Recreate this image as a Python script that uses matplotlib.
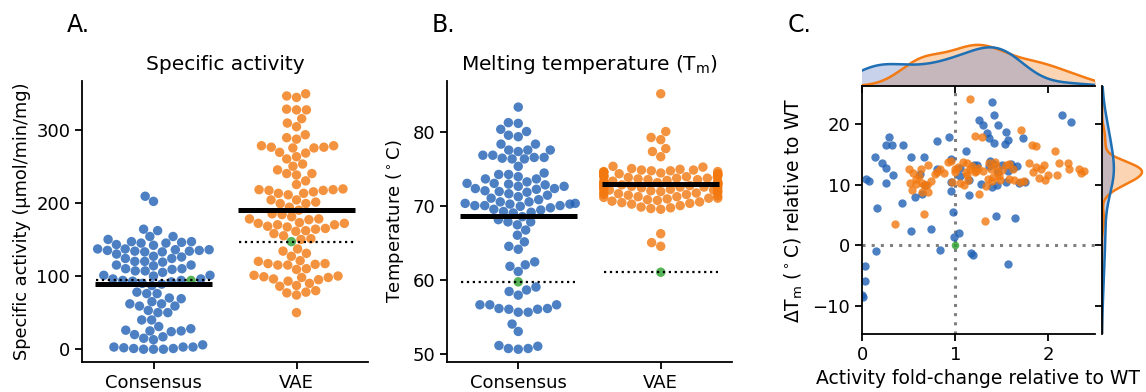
import numpy as np
import pandas as pd
import matplotlib

matplotlib.use("Agg")
import matplotlib.pyplot as plt
import seaborn as sns

# ---- panel A: specific activity (umol/min/mg) ----
act_consensus = [
    209, 202, 162, 164, 154, 154, 150, 147, 145, 143, 142, 145, 146, 147,
    137, 136, 134, 135, 135, 134, 133, 130, 133, 136, 137, 124, 124, 126, 127,
    119, 120, 120, 115, 114, 115, 110, 110, 109, 107, 105, 107, 101, 100, 101,
    96, 92, 94, 93, 94, 96, 90, 89, 87, 76, 76, 78, 69, 70, 65, 62, 62, 59, 59,
    53, 50, 50, 40, 40, 31, 28, 26, 25, 24, 25, 20, 17, 15, 13,
    3, 3, 1, 0, 0, 0, 1, 2, 3, 6,
]
act_vae = [
    346, 344, 349, 327, 327, 328, 315, 309, 304, 293, 289, 287,
    278, 276, 275, 275, 276, 278, 269, 268, 263, 260, 253, 250, 245,
    240, 240, 238, 230, 225, 218, 217, 215, 213, 211, 213, 217, 218, 219,
    204, 204, 199, 201, 199, 194, 190, 185, 181, 184, 178, 178, 177,
    173, 172, 170, 172, 170, 168, 167, 165, 162, 161, 164, 158, 155, 151, 150,
    137, 134, 131, 127, 121, 120, 117, 116, 115, 115, 117, 110, 109,
    100, 98, 98, 99, 101, 96, 95, 93, 87, 86, 90, 80, 78, 77, 74, 50,
]
act_ref = [94, 147]  # reference enzyme for each group

# ---- panel B: melting temperature (C) ----
tm_consensus = [
    83.3, 81.2, 81.1, 80.3, 80.0, 79.5, 79.3, 78.3, 78.3, 77.5, 77.5, 77.5,
    76.8, 76.5, 76.3, 76.4, 76.3, 76.5, 76.8, 77.3, 75.3, 74.2, 74.4, 74.2,
    73.9, 73.6, 73.6, 73.2, 73.0, 73.0, 72.9, 72.8, 72.6, 72.6, 72.3, 72.3,
    72.2, 72.0, 71.9, 71.8, 71.6, 71.4, 71.2, 71.0, 70.8, 70.5, 70.5, 70.3,
    70.3, 70.2, 70.2, 70.0, 70.0, 70.0, 69.9, 69.7, 69.5, 69.4, 69.2, 69.1,
    69.0, 68.5, 68.1, 67.8, 67.8, 67.4, 66.7, 66.0, 65.1, 64.5, 64.1,
    62.4, 62.0, 61.8, 61.1, 59.0, 58.6, 58.4, 57.9,
    56.6, 56.1, 56.0, 56.1, 56.0, 56.6, 56.6, 55.6, 55.6, 54.0, 53.0,
    51.0, 50.7, 50.6, 50.7, 51.1,
]
tm_vae = [
    85.1, 80.0, 79.2, 78.9, 77.7, 77.3, 76.6,
    75.3, 75.2, 75.0, 74.9, 74.8, 74.8, 74.7, 74.7, 74.6, 74.6, 74.5, 74.5,
    74.4, 74.3, 74.3, 74.2, 74.2, 74.1, 74.0, 74.0, 73.9, 73.9, 73.8, 73.8,
    73.7, 73.7, 73.6, 73.5, 73.5, 73.4, 73.3, 73.3, 73.2, 73.1, 73.1, 73.0,
    73.0, 72.9, 72.9, 72.8, 72.8, 72.7, 72.7, 72.6, 72.6, 72.5, 72.5, 72.4,
    72.4, 72.3, 72.3, 72.2, 72.1, 72.1, 72.0, 72.0, 71.9, 71.8, 71.8, 71.7,
    71.6, 71.5, 71.5, 71.4, 71.3, 71.2, 71.2, 71.1, 71.0, 71.0, 70.9, 70.8,
    70.7, 70.6, 70.5, 70.4, 70.3, 70.2, 70.0, 69.8, 69.7, 69.6, 69.5,
    66.2, 65.0, 64.5,
]
tm_ref = [59.7, 61.0]

# ---- panel C: fold-change vs WT and delta Tm ----
fc_consensus = [
    1.40, 1.42, 1.26, 1.30, 1.46, 1.34, 1.36, 1.55, 1.57, 1.73, 1.53, 1.42,
    2.15, 2.24, 0.93, 0.81, 0.285, 0.26, 0.32, 0.435, 1.12, 0.14, 0.21, 0.26,
    0.33, 0.53, 0.67, 0.04, 0.075, 0.26, 0.80, 0.96, 0.62, 0.95, 0.95, 1.15,
    0.57, 0.64, 0.43, 0.16, 0.98, 1.05, 1.20, 1.36, 1.42, 1.50, 1.60, 1.66,
    1.23, 1.46, 1.57, 1.28, 1.40, 1.45, 1.55, 1.68, 1.44, 1.64, 0.53, 0.74,
    0.99, 1.04, 0.15, 0.84, 1.17, 1.19, 1.57, 0.035, 0.035, 0.005, 0.01,
    1.75, 1.05, 1.15, 1.375, 1.62, 0.68,
]
dtm_consensus = [
    23.7, 21.5, 20.7, 19.8, 19.9, 18.6, 17.7, 18.7, 17.4, 17.7, 16.7, 16.9,
    21.5, 20.4, 17.8, 17.2, 17.8, 16.6, 16.6, 16.6, 15.5, 14.5, 13.6, 12.8,
    11.6, 14.6, 14.5, 10.9, 10.6, 10.2, 12.6, 14.2, 11.8, 10.4, 9.0, 8.2,
    7.9, 8.5, 6.9, 6.1, 5.4, 12.8, 13.2, 13.0, 13.4, 13.2, 13.4, 13.0,
    13.2, 12.0, 12.3, 10.1, 9.6, 9.9, 10.5, 10.2, 4.8, 4.4, 2.4, 2.6,
    1.3, 2.0, -0.9, -0.8, -1.3, -1.6, -3.1, -3.4, -5.9, -8.2, -8.6,
    10.4, 11.4, 10.8, 13.9, 12.8, 10.0,
]
fc_vae = [
    1.16, 1.21, 1.29, 1.71, 1.82, 1.87, 2.07, 0.50, 0.55, 0.61, 0.52, 0.58,
    0.64, 0.70, 0.74, 0.54, 0.64, 0.71, 0.67, 0.35, 1.32, 0.71, 0.92, 0.95,
    0.80, 0.84, 0.88, 1.13, 1.16, 1.21, 1.13, 1.05, 1.09, 1.14, 1.25, 1.36,
    1.43, 1.38, 1.45, 1.41, 1.47, 1.40, 1.48, 1.35, 1.30, 1.24, 1.22, 1.55,
    1.58, 1.62, 1.79, 1.87, 1.95, 1.92, 1.84, 1.90, 2.00, 2.09, 2.11, 2.21,
    2.22, 2.33, 2.35, 1.58, 1.63, 1.70, 1.74, 0.58, 0.66, 0.78, 1.00, 1.03,
    1.08, 1.12, 1.18, 0.97, 0.63, 1.50, 1.44, 1.33, 2.38, 1.96, 1.00,
]
dtm_vae = [
    24.2, 18.1, 17.8, 19.0, 16.6, 16.3, 15.5, 12.6, 11.9, 11.5, 10.3, 10.1,
    10.2, 10.0, 10.6, 9.1, 8.8, 8.8, 5.2, 3.5, 4.0, 13.2, 13.8, 13.9,
    12.1, 12.6, 11.9, 13.6, 12.6, 12.0, 11.6, 10.3, 10.0, 10.8, 8.5, 13.5,
    13.8, 12.6, 12.0, 11.3, 11.5, 10.6, 10.8, 11.0, 12.2, 12.8, 12.2, 13.3,
    13.4, 12.6, 13.6, 12.9, 13.2, 12.6, 12.0, 11.1, 11.6, 11.6, 13.5, 13.5,
    12.6, 12.5, 11.9, 11.0, 10.7, 10.5, 10.6, 10.9, 9.9, 11.8, 12.5, 12.9,
    13.7, 12.0, 13.0, 10.5, 12.6, 12.4, 13.0, 9.8, 12.2, 10.8, 12.0,
]
wt_point = (1.0, 0.0)

groups = ["Consensus", "VAE"]

BLUE = "#1f60b4"
ORANGE = "#f2780f"
GREEN = "#2ca02c"
LINE_BLUE = "#1f6fb4"
LINE_ORANGE = "#f47a14"
FILL_BLUE = "#6a85c9"
FILL_ORANGE = "#f57604"

plt.rcParams["font.family"] = ["DejaVu Sans"]
plt.rcParams["axes.linewidth"] = 1.3
plt.rcParams["xtick.major.width"] = 1.3
plt.rcParams["ytick.major.width"] = 1.3
plt.rcParams["xtick.major.size"] = 5
plt.rcParams["ytick.major.size"] = 5
plt.rcParams["xtick.labelsize"] = 13
plt.rcParams["ytick.labelsize"] = 13

fig = plt.figure(figsize=(11.46, 3.92), dpi=100)
W, H = 1146.0, 392.0


def box(left, top, right, bottom):
    return [left / W, 1 - bottom / H, (right - left) / W, (bottom - top) / H]


def swarm_panel(ax, cons, vae, refs):
    df = pd.DataFrame({
        "group": ["Consensus"] * len(cons) + ["VAE"] * len(vae) + groups,
        "value": list(cons) + list(vae) + list(refs),
        "kind": ["Consensus"] * len(cons) + ["VAE"] * len(vae) + ["ref", "ref"],
    })
    sns.swarmplot(data=df, x="group", y="value", hue="kind", order=groups,
                  hue_order=["Consensus", "VAE", "ref"],
                  palette={"Consensus": BLUE, "VAE": ORANGE, "ref": GREEN},
                  size=6.8, alpha=0.8, linewidth=0, legend=False, ax=ax,
                  warn_thresh=1.0)
    for i, (vals, ref) in enumerate(zip([cons, vae], refs)):
        ax.hlines(np.mean(vals), i - 0.41, i + 0.41, color="black", lw=3.6, zorder=4)
        ax.hlines(ref, i - 0.4, i + 0.4, color="black", lw=1.6, linestyles=":", zorder=4)
    ax.set_xlim(-0.5, 1.5)
    ax.set_xlabel("")
    sns.despine(ax=ax)


axa = fig.add_axes(box(82, 81, 368, 362))
swarm_panel(axa, act_consensus, act_vae, act_ref)
axa.set_yticks([0, 100, 200, 300])
axa.set_title("Specific activity", fontsize=14.5, pad=8)
axa.set_ylabel("Specific activity (μmol/min/mg)", fontsize=12.8)
axa.yaxis.set_label_coords(-0.18, 0.5)

axb = fig.add_axes(box(447, 81, 732, 362))
swarm_panel(axb, tm_consensus, tm_vae, tm_ref)
axb.set_yticks([50, 60, 70, 80])
axb.set_title(r"Melting temperature (T$_\mathrm{m}$)", fontsize=14.5, pad=8)
axb.set_ylabel(r"Temperature ($^\circ$C)", fontsize=13)
axb.yaxis.set_label_coords(-0.145, 0.5)

# ---- panel C: joint scatter with marginal densities ----
axc = fig.add_axes(box(862, 86, 1095, 334))
axt = fig.add_axes(box(862, 42, 1095, 86), sharex=axc)
axr = fig.add_axes(box(1102, 86, 1144, 334), sharey=axc)

dot = (0, (1, 2))
axc.axvline(1, color="#808080", lw=2.2, ls=dot, zorder=1)
axc.axhline(0, color="#808080", lw=2.2, ls=dot, zorder=1)
axc.scatter(fc_consensus, dtm_consensus, s=36, color=BLUE, alpha=0.8, lw=0, zorder=2)
axc.scatter(fc_vae, dtm_vae, s=36, color=ORANGE, alpha=0.8, lw=0, zorder=2)
axc.scatter([wt_point[0]], [wt_point[1]], s=30, color=GREEN, alpha=0.8, lw=0, zorder=3)
axc.set_xlim(0, 2.5)
axc.set_ylim(-14.7, 26.3)
axc.set_xticks([0, 1, 2])
axc.set_yticks([-10, 0, 10, 20])
axc.set_xlabel("Activity fold-change relative to WT", fontsize=13.5)
axc.set_ylabel(r"$\Delta$T$_\mathrm{m}$ ($^\circ$C) relative to WT", fontsize=13.5)
axc.xaxis.set_label_coords(0.5, -0.14)
axc.yaxis.set_label_coords(-0.245, 0.5)
sns.despine(ax=axc)


def kde(values, grid, total):
    values = np.asarray(values, dtype=float)
    bw = values.std(ddof=1) * len(values) ** (-1 / 5)
    z = (grid[:, None] - values[None, :]) / bw
    dens = np.exp(-0.5 * z ** 2).sum(axis=1) / (len(values) * bw * np.sqrt(2 * np.pi))
    return dens * len(values) / total


n_total = len(fc_consensus) + len(fc_vae)
gx = np.linspace(-1.5, 4.0, 500)
gy = np.linspace(-30, 45, 600)
curves = []
for xs, ys, lc, fc, a in [(fc_vae, dtm_vae, LINE_ORANGE, FILL_ORANGE, 0.3),
                          (fc_consensus, dtm_consensus, LINE_BLUE, FILL_BLUE, 0.37)]:
    dx = kde(xs, gx, n_total)
    dy = kde(ys, gy, n_total)
    axt.fill_between(gx, 0, dx, color=fc, alpha=a, lw=0)
    axr.fill_betweenx(gy, 0, dy, color=fc, alpha=a, lw=0)
    curves.append((dx, dy, lc))

for dx, dy, lc in curves:
    axt.plot(gx, dx, color=lc, lw=1.8)
    axr.plot(dy, gy, color=lc, lw=1.8)

axt.set_ylim(0, max(c[0].max() for c in curves) * 1.07)
axr.set_xlim(0, max(c[1].max() for c in curves) * 1.05)
axt.tick_params(axis="x", labelbottom=False)
axt.tick_params(axis="y", left=False, labelleft=False)
axr.tick_params(axis="y", labelleft=False)
axr.tick_params(axis="x", bottom=False, labelbottom=False)
sns.despine(ax=axt, left=True)
sns.despine(ax=axr, bottom=True)

for label, x in [("A.", 67), ("B.", 432), ("C.", 788)]:
    fig.text(x / W, 1 - 32 / H, label, fontsize=17, ha="left", va="baseline")

fig.savefig("out.png", dpi=100)
